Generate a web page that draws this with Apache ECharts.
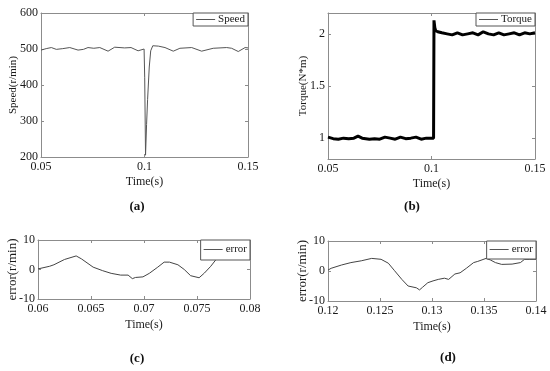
<!DOCTYPE html>
<html>
<head>
<meta charset="utf-8">
<script src="https://cdn.jsdelivr.net/npm/echarts@6/dist/echarts.min.js"></script>
<style>html,body{margin:0;padding:0;background:#fff;}#c{width:550px;height:371px;}</style>
</head>
<body>
<div id="c"></div>
<script>
// ---- data ----
const speedTime  = [0.050,0.0525,0.055,0.0574,0.0605,0.0639,0.0679,0.0705,0.0727,0.0755,0.0784,0.0824,0.0856,0.0904,0.0935,0.0969,0.0998,0.1001,0.1005,0.1010,0.1015,0.1023,0.1030,0.1040,0.1067,0.1099,0.1139,0.1171,0.1228,0.1276,0.1332,0.1397,0.1421,0.1453,0.1486,0.150];
const speedValue = [497,501,504,499,501,504,497,499,504,502,504,494,505,503,504,495,500,420,205,290,360,450,495,509,508,504,494,502,504,494,502,504,502,493,504,503];

const torqueTime  = [0.050,0.0525,0.055,0.0575,0.060,0.0625,0.0645,0.0665,0.070,0.0725,0.075,0.0775,0.080,0.0825,0.085,0.0875,0.090,0.0925,0.095,0.0975,0.1010,0.1012,0.1016,0.1020,0.1030,0.1050,0.1075,0.110,0.1125,0.115,0.1175,0.120,0.1225,0.125,0.1275,0.130,0.1325,0.135,0.1375,0.140,0.1425,0.145,0.1475,0.150];
const torqueValue = [1.01,0.995,0.99,1.0,0.995,1.0,1.02,1.0,0.99,0.995,0.99,1.01,1.0,0.99,1.01,0.995,1.0,1.01,0.99,1.0,1.0,2.13,2.06,2.03,2.02,2.01,2.0,1.99,2.01,1.99,2.0,2.01,1.99,2.02,2.0,1.99,2.01,1.99,2.0,2.01,1.99,2.01,2.0,2.01];

const errorCTime  = [0.060,0.0611,0.0615,0.0625,0.0636,0.0641,0.0652,0.0661,0.0669,0.0678,0.0685,0.0689,0.0692,0.0699,0.0705,0.0713,0.0719,0.0724,0.0732,0.0738,0.0744,0.0752,0.0757,0.0763,0.0768,0.0775,0.0785,0.0795,0.080];
const errorCValue = [0.2,1.1,1.6,3.4,4.6,3.6,0.8,-0.4,-1.3,-1.9,-1.9,-3.1,-2.7,-2.5,-1.3,0.8,2.5,2.5,1.6,0.0,-2.1,-2.8,-1.2,1.1,3.4,4.5,5.0,4.0,3.3];

const errorDTime  = [0.120,0.1203,0.1213,0.1222,0.1232,0.1242,0.1251,0.1258,0.1264,0.1271,0.1277,0.1285,0.1288,0.1291,0.1296,0.1301,0.1306,0.1312,0.1316,0.1322,0.1327,0.1333,0.1340,0.1344,0.1352,0.1356,0.1361,0.1367,0.1377,0.1385,0.1389,0.1394,0.140];
const errorDValue = [0.3,0.9,2.0,2.8,3.4,4.2,3.9,2.6,0.1,-2.8,-5.0,-5.6,-6.3,-5.4,-3.9,-3.3,-2.8,-2.4,-2.8,-1.0,-0.6,0.9,2.8,3.2,4.2,3.7,2.8,2.2,2.3,2.8,3.9,3.9,3.9];

const torqueYTicks = [1, 1.5, 2];
const captions = ['(a)', '(b)', '(c)', '(d)'];

// ---- helpers ----
const zip = (a, b) => a.map((v, i) => [v, b[i]]);
const FONT = 'Liberation Serif';
const AX = '#8c8c8c';
const fmt = v => String(+(+v).toFixed(4));

const grids = [
  {left: 41, top: 13, width: 207, height: 144},
  {left: 328, top: 13, width: 207, height: 146},
  {left: 38, top: 240, width: 212, height: 59},
  {left: 328, top: 241, width: 208, height: 60}
];

const xAxes = [], yAxes = [];
function addAxes(gi, x, y) {
  const base = {
    type: 'value', gridIndex: gi,
    axisLine: {show: true, onZero: false, lineStyle: {color: AX, width: 1}},
    splitLine: {show: false}
  };
  xAxes.push(Object.assign({}, base, {
    position: 'bottom', min: x.min, max: x.max, interval: x.interval,
    axisTick: {inside: true, length: 3, lineStyle: {color: AX}},
    axisLabel: {color: '#1a1a1a', fontFamily: FONT, fontSize: 12, margin: 4, formatter: fmt},
    name: 'Time(s)', nameLocation: 'middle', nameGap: x.nameGap, nameMoveOverlap: false,
    nameTextStyle: {color: '#1a1a1a', fontFamily: FONT, fontSize: 12}
  }));
  xAxes.push(Object.assign({}, base, {
    position: 'top', min: x.min, max: x.max, interval: x.interval,
    axisTick: {inside: true, length: 3, lineStyle: {color: AX}},
    axisLabel: {show: false}
  }));
  const yTick = {inside: true, length: 3, lineStyle: {color: AX}};
  const yLab = {color: '#1a1a1a', fontFamily: FONT, fontSize: 12, margin: 3, formatter: fmt};
  if (y.custom) { yTick.customValues = y.custom; yLab.customValues = y.custom; }
  yAxes.push(Object.assign({}, base, {
    position: 'left', min: y.min, max: y.max, interval: y.interval,
    axisTick: yTick, axisLabel: yLab,
    name: y.name, nameLocation: 'middle', nameGap: y.nameGap, nameRotate: 90, nameMoveOverlap: false,
    nameTextStyle: {color: '#1a1a1a', fontFamily: FONT, fontSize: y.nameSize}
  }));
  const yTick2 = Object.assign({}, yTick);
  yAxes.push(Object.assign({}, base, {
    position: 'right', min: y.min, max: y.max, interval: y.interval,
    axisTick: yTick2, axisLabel: {show: false, customValues: y.custom}
  }));
}
addAxes(0, {min: 0.05, max: 0.15, interval: 0.05, nameGap: 19}, {min: 200, max: 600, interval: 100, name: 'Speed(r/min)', nameGap: 22, nameSize: 11});
addAxes(1, {min: 0.05, max: 0.15, interval: 0.05, nameGap: 19}, {min: 0.8, max: 2.2, custom: torqueYTicks, name: 'Torque(N*m)', nameGap: 19, nameSize: 11});
addAxes(2, {min: 0.06, max: 0.08, interval: 0.005, nameGap: 20}, {min: -10, max: 10, interval: 10, name: 'error(r/min)', nameGap: 19, nameSize: 13});
addAxes(3, {min: 0.12, max: 0.14, interval: 0.005, nameGap: 20}, {min: -10, max: 10, interval: 10, name: 'error(r/min)', nameGap: 19, nameSize: 13});

function legend(name, right, top, pad) {
  return {
    data: [name], right: right, top: top, orient: 'vertical',
    icon: 'rect', itemWidth: 19, itemHeight: 1, itemGap: 0,
    itemStyle: {color: '#555'},
    padding: pad, borderColor: '#555', borderWidth: 1, borderRadius: 0,
    backgroundColor: '#fff',
    textStyle: {color: '#1a1a1a', fontFamily: FONT, fontSize: 11, padding: [0, 0, 0, -2]}
  };
}

const option = {
  animation: false,
  backgroundColor: '#fff',
  grid: grids.map(g => Object.assign({containLabel: false}, g)),
  xAxis: xAxes,
  yAxis: yAxes,
  legend: [
    legend('Speed', 302, 13, [1, 3, 1, 3]),
    legend('Torque', 15, 13, [1, 3, 1, 3]),
    legend('error', 300, 240, [4, 3, 5, 3]),
    legend('error', 14, 241, [3, 3, 4, 3])
  ],
  series: [
    {name: 'Speed', type: 'line', xAxisIndex: 0, yAxisIndex: 0, data: zip(speedTime, speedValue), symbol: 'none', lineStyle: {color: '#555', width: 1}, itemStyle: {color: '#555'}},
    {name: 'Torque', type: 'line', xAxisIndex: 2, yAxisIndex: 2, data: zip(torqueTime, torqueValue), symbol: 'none', lineStyle: {color: '#000', width: 3}, itemStyle: {color: '#555'}},
    {name: 'error', type: 'line', xAxisIndex: 4, yAxisIndex: 4, data: zip(errorCTime, errorCValue), symbol: 'none', lineStyle: {color: '#444', width: 1}, itemStyle: {color: '#555'}},
    {name: 'error', type: 'line', xAxisIndex: 6, yAxisIndex: 6, data: zip(errorDTime, errorDValue), symbol: 'none', lineStyle: {color: '#444', width: 1}, itemStyle: {color: '#555'}}
  ],
  graphic: [
    {type: 'text', x: 137, y: 207, style: {text: captions[0], font: 'bold 13px "Liberation Serif"', fill: '#111', align: 'center', verticalAlign: 'middle'}},
    {type: 'text', x: 412, y: 207, style: {text: captions[1], font: 'bold 13px "Liberation Serif"', fill: '#111', align: 'center', verticalAlign: 'middle'}},
    {type: 'text', x: 137, y: 359, style: {text: captions[2], font: 'bold 13px "Liberation Serif"', fill: '#111', align: 'center', verticalAlign: 'middle'}},
    {type: 'text', x: 448, y: 358, style: {text: captions[3], font: 'bold 13px "Liberation Serif"', fill: '#111', align: 'center', verticalAlign: 'middle'}}
  ]
};
echarts.init(document.getElementById('c'), null, {renderer: 'canvas'}).setOption(option);
</script>
</body>
</html>
